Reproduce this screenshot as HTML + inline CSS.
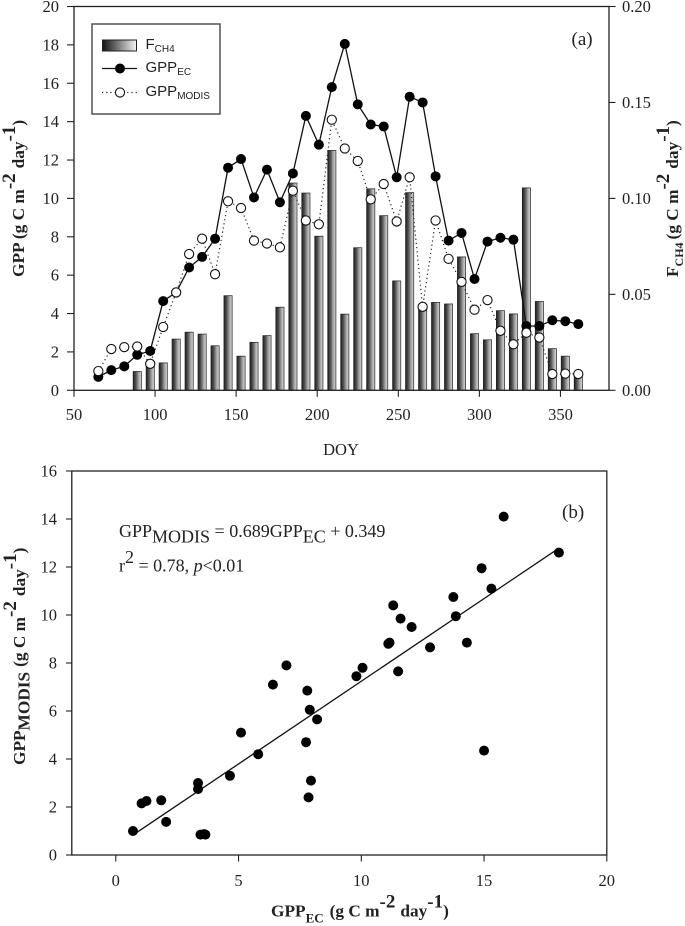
<!DOCTYPE html>
<html lang="en">
<head>
<meta charset="utf-8">
<title>GPP and FCH4 chart</title>
<style>
html,body{margin:0;padding:0;background:#fff;}
svg{display:block;filter:blur(0.3px);}
text{font-family:"Liberation Serif",serif;fill:#222;}
.tick{font-size:16.5px;}
.sans{font-family:"Liberation Sans",sans-serif;font-size:15px;}
.bold{font-weight:bold;font-size:17.3px;}
.eq{font-size:18px;}
</style>
</head>
<body>
<svg id="chart" xmlns="http://www.w3.org/2000/svg" width="685" height="926" viewBox="0 0 685 926">
<defs>
<linearGradient id="barFill" x1="0" x2="1" y1="0" y2="0">
<stop offset="0" stop-color="#1c1c1c"/><stop offset="0.35" stop-color="#555"/><stop offset="0.7" stop-color="#aaa"/><stop offset="1" stop-color="#d8d8d8"/>
</linearGradient>
<linearGradient id="legendFill" x1="0" x2="1" y1="0" y2="0">
<stop offset="0" stop-color="#111"/><stop offset="1" stop-color="#f4f4f4"/>
</linearGradient>
</defs>
<rect width="685" height="926" fill="#fff"/>
<g id="plotA"></g>
<g id="plotB"></g>

<g>
<rect x="92" y="24" width="128" height="90" fill="#fff" stroke="#444" stroke-width="1.4"/>
<rect x="102.5" y="40" width="34" height="11" fill="url(#legendFill)" stroke="#222" stroke-width="1"/>
<line x1="102" x2="137" y1="68.5" y2="68.5" stroke="#111" stroke-width="1.3"/>
<circle cx="120" cy="68.5" r="5" fill="#000"/>
<line x1="102" x2="137" y1="92.5" y2="92.5" stroke="#222" stroke-width="1.2" stroke-dasharray="1.2 3"/>
<circle cx="120" cy="92.5" r="4.6" fill="#fff" stroke="#111" stroke-width="1.1"/>
<text class="sans" x="145.5" y="49">F<tspan font-size="10" dy="3">CH4</tspan></text>
<text class="sans" x="145.5" y="72">GPP<tspan font-size="10" dy="3">EC</tspan></text>
<text class="sans" x="145.5" y="96">GPP<tspan font-size="10" dy="3">MODIS</tspan></text>
</g>

<text x="571.5" y="45" font-size="19">(a)</text>
<text x="562" y="518" font-size="19">(b)</text>

<text class="tick" x="341" y="455" text-anchor="middle">DOY</text>

<text class="bold" transform="translate(24,277) rotate(-90)">GPP (g C m<tspan font-size="19" dy="-9">-2</tspan><tspan dy="9" dx="5">day</tspan><tspan font-size="19" dy="-9">-1</tspan><tspan dy="9">)</tspan></text>

<text class="bold" transform="translate(678,277) rotate(-90)">F<tspan font-size="12" dy="5">CH4</tspan><tspan dy="-5" dx="3">(g C m</tspan><tspan font-size="19" dy="-9">-2</tspan><tspan dy="9" dx="5">day</tspan><tspan font-size="19" dy="-9">-1</tspan><tspan dy="9">)</tspan></text>

<text class="bold" transform="translate(25,765) rotate(-90)">GPP<tspan dy="4.5">MODIS</tspan><tspan dy="-4.5" dx="5">(g C m</tspan><tspan font-size="19" dy="-9">-2</tspan><tspan dy="9" dx="5">day</tspan><tspan font-size="19" dy="-9">-1</tspan><tspan dy="9">)</tspan></text>

<text class="bold" x="271" y="916.5">GPP<tspan font-size="13" dy="6">EC</tspan><tspan dy="-6" dx="6">(g C m</tspan><tspan font-size="19" dy="-9">-2</tspan><tspan dy="9" dx="5">day</tspan><tspan font-size="19" dy="-9">-1</tspan><tspan dy="9">)</tspan></text>

<text class="eq" x="119" y="537">GPP<tspan dy="5.5">MODIS</tspan><tspan dy="-5.5"> = 0.689GPP</tspan><tspan dy="5.5">EC</tspan><tspan dy="-5.5"> + 0.349</tspan></text>
<text class="eq" x="119" y="571.5">r<tspan dy="-8.5">2</tspan><tspan dy="8.5"> = 0.78, </tspan><tspan font-style="italic">p</tspan>&lt;0.01</text>

<script>
var doy = [65,73,81,89,97,105,113,121,129,137,145,153,161,169,177,185,193,201,209,217,225,233,241,249,257,265,273,281,289,297,305,313,321,329,337,345,353,361];
var gppEc = [0.7,1.05,1.25,1.85,2.05,4.65,5.1,6.4,6.95,7.9,11.6,12.05,10.05,11.5,9.8,11.3,14.3,12.8,15.8,18.05,14.9,13.85,13.75,11.1,15.3,15.0,11.15,7.8,8.2,5.8,7.75,7.95,7.85,3.35,3.35,3.65,3.6,3.45];
var gppModis = [1.0,2.15,2.25,2.28,1.38,3.3,5.1,7.1,7.9,6.05,9.85,9.5,7.8,7.65,7.45,10.4,8.85,8.65,14.1,12.6,11.95,9.95,10.75,8.8,11.1,4.35,8.85,6.85,5.65,4.2,4.7,3.1,2.4,3.0,2.75,0.85,0.87,0.85];
var barDoy = [89,97,105,113,121,129,137,145,153,161,169,177,185,193,201,209,217,225,233,241,249,257,265,273,281,289,297,305,313,321,329,337,345,353,361];
var fch4 = [0.0098,0.0135,0.0143,0.0267,0.0303,0.0293,0.0232,0.0493,0.0178,0.025,0.0285,0.0433,0.108,0.1028,0.0803,0.125,0.0397,0.0743,0.105,0.091,0.057,0.103,0.043,0.0458,0.045,0.0695,0.0295,0.0263,0.0415,0.0398,0.1055,0.0463,0.0217,0.0178,0.008];
var xTicksA = [50,100,150,200,250,300,350];
var yTicksA = [0,2,4,6,8,10,12,14,16,18,20];
var y2TicksA = ["0.00","0.05","0.10","0.15","0.20"];
var xTicksB = [0,5,10,15,20];
var yTicksB = [0,2,4,6,8,10,12,14,16];
var regression = [0.689,0.349];
var regressionRange = [0.75,18.05];

var NS = 'http://www.w3.org/2000/svg';
function make(parent, tag, attrs) {
  var el = document.createElementNS(NS, tag);
  for (var k in attrs) el.setAttribute(k, attrs[k]);
  parent.appendChild(el);
  return el;
}
function xA(v) { return 74 + (v - 50) * 1.6215; }
function yA(v) { return 390.3 - v * 19.19; }
function y2A(v) { return 390.3 - v * 1919; }
function xB(v) { return 115.8 + v * 24.55; }
function yB(v) { return 855 - v * 24; }
function pts(xs, ys) {
  return xs.map(function (x, i) { return xA(x) + ',' + yA(ys[i]); }).join(' ');
}
var axisColor = '#222';

/* Panel A */
var a = document.getElementById('plotA');
barDoy.forEach(function (d, i) {
  var el = make(a, 'rect', {x: xA(d) - 4.1, y: y2A(fch4[i]), width: 8.2, height: y2A(0) - y2A(fch4[i]), fill: 'url(#barFill)', stroke: '#222', 'stroke-width': 0.7});
  
  
});
var lineEc = make(a, 'polyline', {points: pts(doy, gppEc), fill: 'none', stroke: '#111', 'stroke-width': 1.3});


var lineModis = make(a, 'polyline', {points: pts(doy, gppModis), fill: 'none', stroke: '#222', 'stroke-width': 1.2, 'stroke-dasharray': '1.2 3'});


doy.forEach(function (d, i) {
  var el = make(a, 'circle', {cx: xA(d), cy: yA(gppEc[i]), r: 5, fill: '#000'});
  
  
});
doy.forEach(function (d, i) {
  var el = make(a, 'circle', {cx: xA(d), cy: yA(gppModis[i]), r: 4.6, fill: '#fff', stroke: '#111', 'stroke-width': 1.1});
  
  
});
var frameA = make(a, 'rect', {x: xA(50), y: yA(20), width: 535, height: yA(0) - yA(20), fill: 'none', stroke: axisColor, 'stroke-width': 1.3});


xTicksA.forEach(function (t) {
  var tk = make(a, 'line', {x1: xA(t), x2: xA(t), y1: yA(0), y2: yA(0) + 6.5, stroke: axisColor, 'stroke-width': 1.1});
  
  
  var lb = make(a, 'text', {x: xA(t), y: 420, 'text-anchor': 'middle', 'class': 'tick'});
  lb.textContent = t;
  
  
});
yTicksA.forEach(function (t) {
  var tk = make(a, 'line', {x1: 67, x2: xA(50), y1: yA(t), y2: yA(t), stroke: axisColor, 'stroke-width': 1.1});
  
  
  var lb = make(a, 'text', {x: 59, y: yA(t) + 5.5, 'text-anchor': 'end', 'class': 'tick'});
  lb.textContent = t;
  
  
});
y2TicksA.forEach(function (t) {
  var v = parseFloat(t);
  var tk = make(a, 'line', {x1: 609, x2: 615.5, y1: y2A(v), y2: y2A(v), stroke: axisColor, 'stroke-width': 1.1});
  
  
  var lb = make(a, 'text', {x: 622, y: y2A(v) + 5.5, 'class': 'tick'});
  lb.textContent = t;
  
  
});

/* Panel B */
var b = document.getElementById('plotB');
var fit = make(b, 'line', {
  x1: xB(regressionRange[0]), y1: yB(regression[0] * regressionRange[0] + regression[1]),
  x2: xB(regressionRange[1]), y2: yB(regression[0] * regressionRange[1] + regression[1]),
  stroke: '#111', 'stroke-width': 1.3
});


gppEc.forEach(function (v, i) {
  var el = make(b, 'circle', {cx: xB(v), cy: yB(gppModis[i]), r: 5, fill: '#000'});
  
  
});
var frameB = make(b, 'rect', {x: 71.8, y: yB(16), width: xB(20) - 71.8, height: yB(0) - yB(16), fill: 'none', stroke: axisColor, 'stroke-width': 1.3});


xTicksB.forEach(function (t) {
  var tk = make(b, 'line', {x1: xB(t), x2: xB(t), y1: yB(0), y2: yB(0) + 6.5, stroke: axisColor, 'stroke-width': 1.1});
  
  
  var lb = make(b, 'text', {x: xB(t), y: 886, 'text-anchor': 'middle', 'class': 'tick'});
  lb.textContent = t;
  
  
});
yTicksB.forEach(function (t) {
  var tk = make(b, 'line', {x1: 66, x2: 71.8, y1: yB(t), y2: yB(t), stroke: axisColor, 'stroke-width': 1.1});
  
  
  var lb = make(b, 'text', {x: 57, y: yB(t) + 5.5, 'text-anchor': 'end', 'class': 'tick'});
  lb.textContent = t;
  
  
});
</script>
</svg>
</body>
</html>
